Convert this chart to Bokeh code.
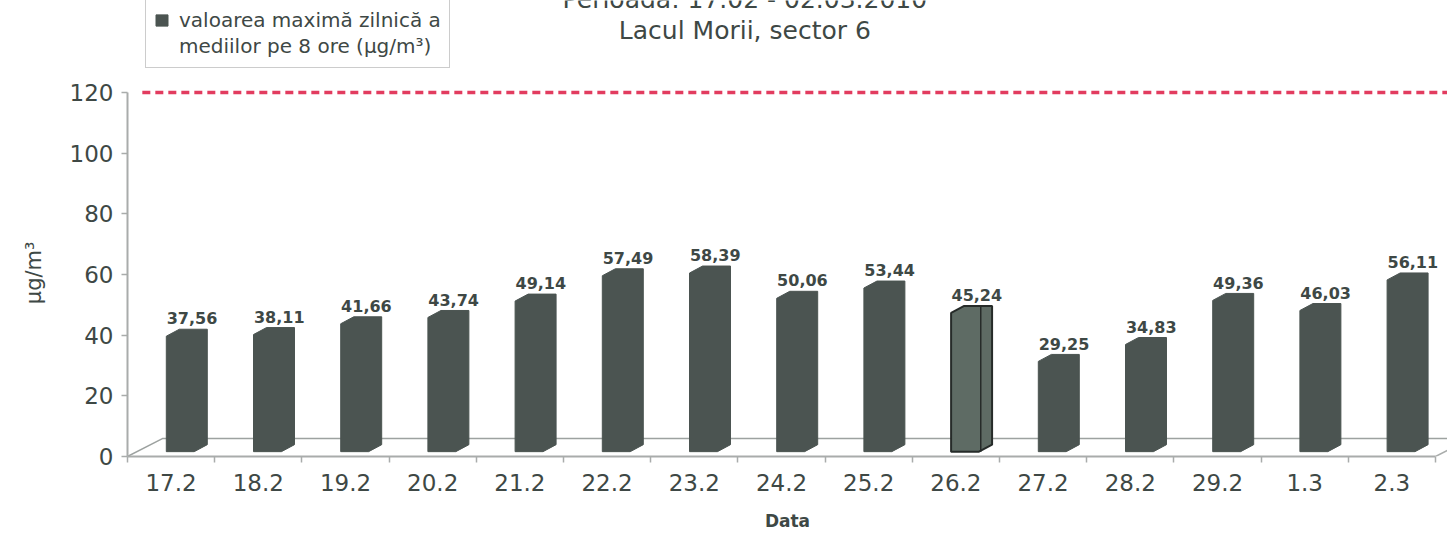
from bokeh.plotting import figure
from bokeh.models import Range1d, FixedTicker, Label, Legend, LegendItem, ColumnDataSource, Title
from bokeh.embed import file_html
from bokeh.resources import INLINE

# ---- data ----
dates = ["17.2", "18.2", "19.2", "20.2", "21.2", "22.2", "23.2", "24.2",
         "25.2", "26.2", "27.2", "28.2", "29.2", "1.3", "2.3"]
values = [37.56, 38.11, 41.66, 43.74, 49.14, 57.49, 58.39, 50.06,
          53.44, 45.24, 29.25, 34.83, 49.36, 46.03, 56.11]
highlight = "26.2"
limit = 120
y_ticks = [0, 20, 40, 60, 80, 100, 120]
title_lines = ["Perioada: 17.02 - 02.03.2010", "Lacul Morii, sector 6"]
legend_lines = ["valoarea maximă zilnică a", "mediilor pe 8 ore (µg/m³)"]
y_label = "µg/m³"
x_label = "Data"

# ---- style ----
FONT = "DejaVu Sans"
TXT = "#3e4845"
BAR = "#4b5451"
HL_FILL = "#5e6b64"
HL_LINE = "#262b29"
AXIS = "#a9acab"
RED = "#e23c5f"

DX, HW = 0.18, 0.235          # bar offset (3-D perspective) and half width
CH_W, CH_H = 0.15, 2.3        # chamfer size
LIFT, BASE = 4.4, 1.6         # 3-D top lift and front face base
FLOOR_DX, FLOOR_DY = 0.4, 5.9
Y_TOP = 456 / 3.0333          # frame reaches the top of the canvas
X_END = 14.5 + 12 / 87.2      # frame reaches the right edge

p = figure(width=1447, height=536, output_backend="svg", toolbar_location=None,
           x_range=Range1d(-0.5, X_END), y_range=Range1d(0, Y_TOP),
           min_border_left=127, min_border_right=0, min_border_top=0,
           min_border_bottom=80)
p.outline_line_color = None
p.grid.visible = False
p.background_fill_color = "white"
p.border_fill_color = "white"

# floor
p.line([-0.5, -0.5 + FLOOR_DX, 14.5 + FLOOR_DX], [0, FLOOR_DY, FLOOR_DY],
       line_color="#9da2a0", line_width=1.5)
p.line([14.5, 14.5 + FLOOR_DX], [0, FLOOR_DY], line_color=AXIS, line_width=1.5)

# limit line
p.line([-0.33, X_END], [limit, limit], line_color=RED, line_width=3.5, line_dash="8 5")


def bar_shape(i, v):
    cx = i + DX
    top = v + LIFT
    xs = [cx - HW, cx - HW, cx - HW + CH_W, cx + HW, cx + HW, cx + HW - CH_W]
    ys = [BASE, top - CH_H, top, top, BASE + CH_H, BASE]
    return xs, ys


nx, ny, hx, hy = [], [], [], []
for i, (d, v) in enumerate(zip(dates, values)):
    xs, ys = bar_shape(i, v)
    if d == highlight:
        hx.append(xs); hy.append(ys)
    else:
        nx.append(xs); ny.append(ys)

r_bars = p.patches(nx, ny, fill_color=BAR, line_color=BAR, line_width=1)
p.patches(hx, hy, fill_color=HL_FILL, line_color=HL_LINE, line_width=2)
for i, (d, v) in enumerate(zip(dates, values)):
    if d == highlight:
        xe = i + DX + HW - 0.13
        p.segment([xe], [BASE], [xe], [v + LIFT], line_color=HL_LINE, line_width=1.5)

# value labels
src = ColumnDataSource(dict(
    x=[i + DX + 0.06 for i in range(len(values))],
    y=[v + LIFT + 3.6 for v in values],
    t=[f"{v:.2f}".replace(".", ",") for v in values]))
p.text("x", "y", text="t", source=src, text_align="center", text_baseline="alphabetic",
       text_font={"value": FONT}, text_font_size="16px", text_font_style="bold",
       text_color=TXT)

# axes
xa = p.xaxis[0]
xa.bounds = (-0.5, 14.5)
xa.ticker = FixedTicker(ticks=list(range(len(dates))),
                        minor_ticks=[i - 0.5 for i in range(len(dates) + 1)])
xa.major_label_overrides = {i: d for i, d in enumerate(dates)}
xa.major_tick_out = 0
xa.major_tick_in = 0
xa.minor_tick_out = 6
xa.minor_tick_in = 0
xa.minor_tick_line_color = AXIS
xa.minor_tick_line_width = 1.5
xa.axis_line_color = AXIS
xa.axis_line_width = 2
xa.major_label_text_font = FONT
xa.major_label_text_font_size = "23px"
xa.major_label_text_color = TXT
xa.major_label_standoff = 11
xa.axis_label = x_label
xa.axis_label_text_font = FONT
xa.axis_label_text_font_size = "17px"
xa.axis_label_text_font_style = "bold"
xa.axis_label_text_color = TXT
xa.axis_label_standoff = 17

ya = p.yaxis[0]
ya.ticker = FixedTicker(ticks=y_ticks, minor_ticks=[])
ya.bounds = (0, 120)
ya.major_tick_out = 6
ya.major_tick_in = 0
ya.major_tick_line_color = AXIS
ya.major_tick_line_width = 1.5
ya.minor_tick_line_color = None
ya.axis_line_color = AXIS
ya.axis_line_width = 2
ya.major_label_text_font = FONT
ya.major_label_text_font_size = "23px"
ya.major_label_text_color = TXT
ya.major_label_standoff = 8

# y axis title in the left panel, placed level with the 0-120 span
p.add_layout(Title(text=y_label, align="right", offset=241, vertical_align="middle",
                   text_font=FONT, text_font_size="21px", text_font_style="normal",
                   text_color=TXT, standoff=40), "left")

# title lines
p.add_layout(Label(x=6.58, y=150.6, text=title_lines[0], text_align="center",
                   text_baseline="alphabetic", text_font=FONT, text_font_size="25px",
                   text_color=TXT))
p.add_layout(Label(x=6.58, y=140.6, text=title_lines[1], text_align="center",
                   text_baseline="alphabetic", text_font=FONT, text_font_size="25px",
                   text_color=TXT))

# legend
r_dummy = p.patches([[0, 0, 0]], [[0, 0, 0]], fill_alpha=0, line_alpha=0)
legend = Legend(items=[LegendItem(label=legend_lines[0], renderers=[r_bars]),
                       LegendItem(label=legend_lines[1], renderers=[r_dummy])],
                location=(18, 388), orientation="vertical",
                label_text_font=FONT, label_text_font_size="20px", label_text_color=TXT,
                glyph_width=15, glyph_height=14, label_standoff=10, label_height=26,
                padding=8, spacing=0, margin=0,
                border_line_color="#9a9a9a", border_line_width=1.5,
                background_fill_color="white", background_fill_alpha=1)
p.add_layout(legend, "center")

open("out.html", "w").write(file_html(p, INLINE))
